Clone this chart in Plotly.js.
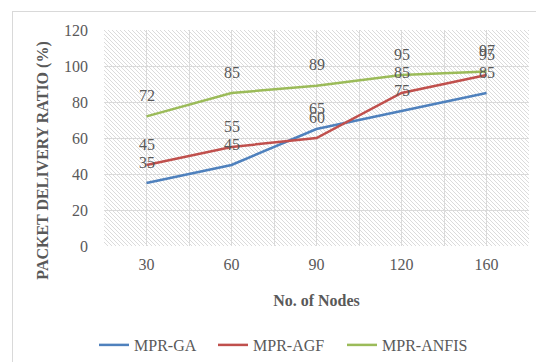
<!DOCTYPE html>
<html>
<head>
<meta charset="utf-8">
<script src="https://cdn.plot.ly/plotly-3.0.1.min.js"></script>
<style>
html,body{margin:0;padding:0;background:#fff;overflow:hidden;}
#wrap{position:relative;width:536px;height:362px;}
#chart{position:absolute;left:0;top:0;width:536px;height:362px;}
#frame{position:absolute;left:12px;top:11px;width:600px;height:400px;border:1px solid #d9d9d9;pointer-events:none;}
</style>
</head>
<body>
<div id="wrap"><div id="chart"></div><div id="frame"></div></div>
<script>
const nodes = ['30', '60', '90', '120', '160'];
const mprGA = [35, 45, 65, 75, 85];
const mprAGF = [45, 55, 60, 85, 95];
const mprANFIS = [72, 85, 89, 95, 97];
const seriesNames = ['MPR-GA', 'MPR-AGF', 'MPR-ANFIS'];
const seriesValues = [mprGA, mprAGF, mprANFIS];
const seriesColors = ['#4F81BD', '#C0504D', '#9BBB59'];
const legendIds = ['legend', 'legend2', 'legend3'];
const legendX = [94 / 536, 213 / 536, 342 / 536];

const FONT = "'Liberation Serif', 'Times New Roman', serif";
const GRAY = '#595959';
const idx = nodes.map((_, i) => i);

const traces = seriesNames.map((name, i) => ({
  type: 'scatter', mode: 'lines', name: name,
  x: idx, y: seriesValues[i],
  line: {color: seriesColors[i], width: 2.5},
  legend: legendIds[i], hoverinfo: 'y+name'
}));

const annotations = [];
seriesValues.forEach((vals) => {
  vals.forEach((v, j) => {
    annotations.push({
      x: idx[j], y: v, xref: 'x', yref: 'y', text: String(v),
      showarrow: false, yshift: 21, xanchor: 'center', yanchor: 'middle',
      font: {family: FONT, size: 16, color: GRAY}
    });
  });
});
annotations.push({
  xref: 'paper', yref: 'paper', x: -0.144, y: 0.394,
  text: '<b>PACKET DELIVERY RATIO (%)</b>', textangle: -90, showarrow: false,
  xanchor: 'center', yanchor: 'middle',
  font: {family: FONT, size: 16, color: GRAY}
});

const hatch = "<svg xmlns='http://www.w3.org/2000/svg' width='425' height='216'>" +
  "<defs><pattern id='p' width='4' height='4' patternUnits='userSpaceOnUse'>" +
  "<path d='M-1,-1 L5,5 M-1,3 L1,5 M3,-1 L5,1' stroke='#d2d2d2' stroke-width='0.8'/></pattern></defs>" +
  "<rect width='425' height='216' fill='#fff'/><rect width='425' height='216' fill='url(#p)'/></svg>";

const legendCommon = {
  orientation: 'h', xref: 'container', yref: 'container',
  xanchor: 'left', yanchor: 'middle', y: (362 - 345) / 362,
  font: {family: FONT, size: 16, color: GRAY}, bgcolor: 'rgba(0,0,0,0)'
};

const layout = {
  width: 536, height: 362,
  margin: {l: 104, r: 7, t: 30, b: 116},
  paper_bgcolor: 'rgba(0,0,0,0)', plot_bgcolor: '#fff',
  showlegend: true,
  xaxis: {
    type: 'linear', range: [-0.5, 4.5], tickmode: 'array', tickvals: idx, ticktext: nodes,
    showgrid: true, gridcolor: '#dadada', gridwidth: 1,
    minor: {tickmode: 'linear', tick0: -0.5, dtick: 1, showgrid: true, gridcolor: '#dadada', gridwidth: 1, ticks: ''},
    ticks: '', showline: false, zeroline: false, fixedrange: true,
    tickfont: {family: FONT, size: 16, color: GRAY}, ticklabelstandoff: 7,
    title: {text: '<b>No. of Nodes</b>', standoff: 22, font: {family: FONT, size: 16, color: GRAY}}
  },
  yaxis: {
    range: [0, 120], dtick: 20, showgrid: true, gridcolor: '#dadada', gridwidth: 1,
    zeroline: false, ticks: '', showline: false, fixedrange: true,
    tickfont: {family: FONT, size: 16, color: GRAY}, ticklabelstandoff: 15
  },
  images: [{
    source: 'data:image/svg+xml;charset=utf-8,' + encodeURIComponent(hatch),
    xref: 'paper', yref: 'paper', x: 0, y: 1, sizex: 1, sizey: 1,
    sizing: 'stretch', layer: 'below', xanchor: 'left', yanchor: 'top'
  }],
  annotations: annotations,
  legend: Object.assign({}, legendCommon, {x: legendX[0]}),
  legend2: Object.assign({}, legendCommon, {x: legendX[1]}),
  legend3: Object.assign({}, legendCommon, {x: legendX[2]})
};

Plotly.newPlot('chart', traces, layout, {displayModeBar: false, staticPlot: true});
</script>
</body>
</html>
